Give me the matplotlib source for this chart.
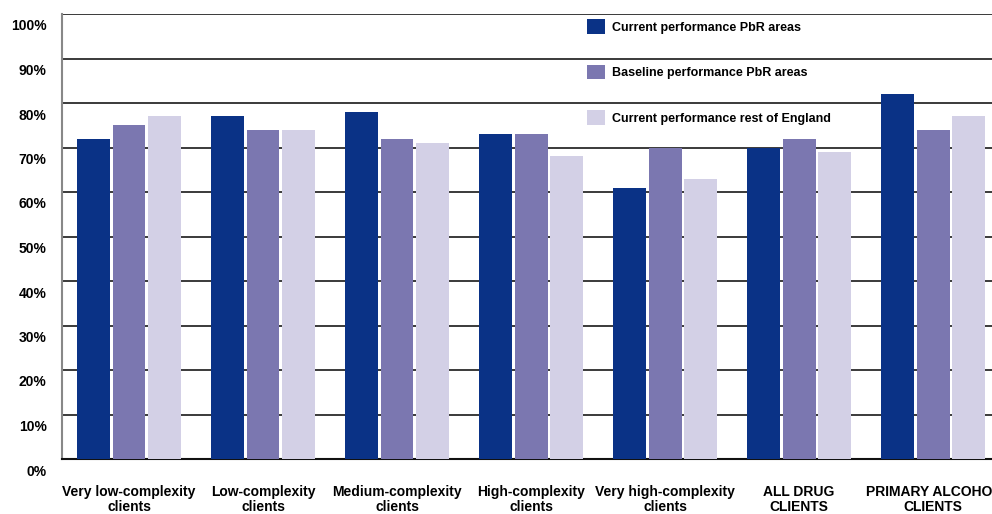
import numpy as np
import matplotlib.pyplot as plt
import matplotlib.transforms as mtransforms

plt.rcParams['font.family'] = ['Liberation Sans', 'DejaVu Sans']
plt.rcParams['font.weight'] = 'bold'

categories = ["Very low-complexity\nclients", "Low-complexity\nclients",
              "Medium-complexity\nclients", "High-complexity\nclients",
              "Very high-complexity\nclients", "ALL DRUG\nCLIENTS",
              "PRIMARY ALCOHOL\nCLIENTS"]
current_pbr = [72, 77, 78, 73, 61, 70, 82]
baseline_pbr = [75, 74, 72, 73, 70, 72, 74]
current_rest = [77, 74, 71, 68, 63, 69, 77]
series_names = ["Current performance PbR areas",
                "Baseline performance PbR areas",
                "Current performance rest of England"]
colors = ["#0a3286", "#7b77b0", "#d3d0e6"]

fig = plt.figure(figsize=(9.92, 5.14), dpi=100)
ax = fig.add_axes([62 / 992, 55 / 514, 930 / 992, 445 / 514])

x = np.arange(len(categories))
w = 0.246
off = 0.265
for i, (vals, name, c) in enumerate(zip([current_pbr, baseline_pbr, current_rest], series_names, colors)):
    ax.bar(x + (i - 1) * off, vals, width=w, color=c, label=name, zorder=3)

ax.set_ylim(0, 100)
ax.set_xlim(-0.5, 6.44)
ax.set_yticks(np.arange(0, 101, 10))
ax.set_yticklabels([f"{v}%" for v in range(0, 101, 10)], fontsize=10, fontweight='bold')
ax.yaxis.grid(True, color="#3a3a3a", linewidth=1.4, zorder=0)
ax.tick_params(axis='y', length=0, pad=11)
ax.tick_params(axis='x', length=0, pad=19)
ax.set_xticks(x)
ax.set_xticklabels(categories, fontsize=10, fontweight='bold', linespacing=1.1)

# shift the percent labels down a little below their gridlines
shift = mtransforms.ScaledTranslation(0, -11 / 100, fig.dpi_scale_trans)
for lbl in ax.get_yticklabels():
    lbl.set_transform(lbl.get_transform() + shift)

for s in ['top', 'right']:
    ax.spines[s].set_visible(False)
ax.spines['left'].set_color("#888888")
ax.spines['left'].set_linewidth(1.5)
ax.spines['bottom'].set_color("#111111")
ax.spines['bottom'].set_linewidth(1.5)

ax.legend(loc='upper left', bbox_to_anchor=(0.5645, 0.988), frameon=False,
          handlelength=1.44, handleheight=1.44, handletextpad=0.6,
          labelspacing=2.45, borderpad=0, borderaxespad=0,
          prop={'weight': 'bold', 'size': 9})

fig.savefig("out.png", dpi=100)
